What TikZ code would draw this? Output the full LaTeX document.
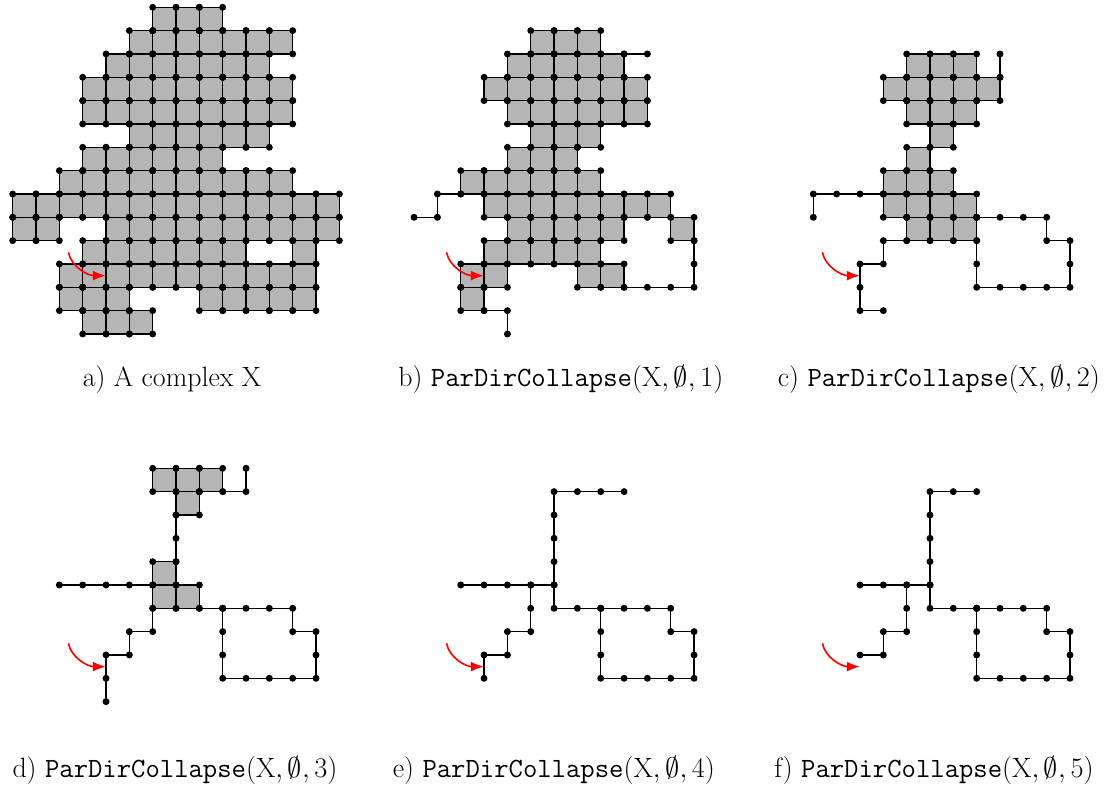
\documentclass[tikz,border=0pt]{standalone}
\usepackage{fontspec}
\usetikzlibrary{arrows.meta}
\tikzset{
  cell/.style={fill=cellgray,draw=black,line width=.8pt},
  seg/.style={line width=.8pt},
  flow/.style={red,line width=1pt,-{Latex[length=8pt,width=6pt]}},
  captext/.style={anchor=base,font=\fontsize{17}{20}\selectfont}
}
% squares given as row/first/last column, with a dot on every corner
\newcommand\cellrows[1]{%
  \foreach \row/\lo/\hi in {#1}{\foreach \col in {\lo,...,\hi}{\filldraw[cell] (\col,\row) rectangle ++(1,1);}}%
  \foreach \row/\lo/\hi in {#1}{\foreach \col in {\lo,...,\hi}{%
    \foreach \dx/\dy in {0/0,1/0,0/1,1/1}{\fill (\col+\dx,\row+\dy) circle[radius=2.1pt];}}}}
% free edges as a dotted polyline
\newcommand\chain[1]{\draw[seg] plot[mark=*,mark size=1.7pt] coordinates {#1};}
\newcommand\ring{\chain{(9,9) (10,9) (11,9) (12,9) (12,10) (13,10) (13,11) (13,12) (12,12) (11,12) (10,12) (9,12) (9,11) (9,10) (9,9)}}
\newcommand\pointer{\draw[flow] (2.39,10.5) .. controls (2.5,11.1) and (3.2,11.5) .. (4,11.5);}
\newcommand\pdc[1]{\texttt{ParDirCollapse}$(\mathrm{X},\emptyset,#1)$}
\begin{document}
\begin{tikzpicture}[x=0.5cm,y=-0.5cm,line join=round]
\definecolor{cellgray}{gray}{0.71}
\useasboundingbox (0,0) rectangle (47.443,33.814);
% a) the complex
\begin{scope}[shift={(0.544,0.313)}]
\cellrows{0/6/8,1/5/11,2/4/10,3/3/11,4/3/11,5/5/10,6/3/8,7/2/11,8/0/13,9/0/1,9/4/13,10/3/9,10/12/12,11/2/12,12/2/4,12/8/12,13/3/5}
\pointer
\end{scope}
% b) one step
\begin{scope}[shift={(16.746,0.313)}]
\cellrows{1/6/8,2/5/9,3/4/10,4/5/10,5/6/8,6/5/7,7/3/8,8/4/11,9/5/9,9/12/12,10/4/8,11/3/4,11/8/9,12/3/3}
\chain{(10,2) (11,2)}
\chain{(3,8) (2,8) (2,9) (1,9)}
\chain{(13,10) (13,11) (13,12) (12,12) (11,12) (10,12)}
\chain{(4,13) (5,13) (5,14)}
\pointer
\end{scope}
% c) two steps
\begin{scope}[shift={(32.857,0.313)}]
\cellrows{2/6/8,3/5/9,4/6/8,5/7/7,6/6/6,7/5/7,8/5/8,9/6/8}
\chain{(10,2) (10,3)}
\chain{(2,9) (2,8) (3,8) (4,8) (5,8)}
\chain{(6,10) (5,10) (5,11) (4,11) (4,12) (4,13) (5,13)}
\ring
\pointer
\end{scope}
% d) three steps
\begin{scope}[shift={(0.544,17.07)}]
\cellrows{3/6/8,4/7/7,7/6/6,8/6/7}
\chain{(10,3) (10,4) (9,4)}
\chain{(7,5) (7,6) (7,7)}
\chain{(2,8) (3,8) (4,8) (5,8) (6,8)}
\chain{(6,9) (6,10) (5,10) (5,11) (4,11) (4,12) (4,13)}
\chain{(8,9) (9,9)}
\ring
\pointer
\end{scope}
% e) four steps
\begin{scope}[shift={(16.746,17.07)}]
\chain{(10,4) (9,4) (8,4) (7,4) (7,5) (7,6) (7,7) (7,8) (7,9) (8,9) (9,9)}
\chain{(3,8) (4,8) (5,8) (6,8) (7,8)}
\chain{(6,8) (6,9) (6,10) (5,10) (5,11) (4,11) (4,12)}
\ring
\pointer
\end{scope}
% f) five steps
\begin{scope}[shift={(32.857,17.07)}]
\chain{(9,4) (8,4) (7,4) (7,5) (7,6) (7,7) (7,8) (7,9) (8,9) (9,9)}
\chain{(4,8) (5,8) (6,8) (7,8)}
\chain{(6,8) (6,9) (6,10) (5,10) (5,11) (4,11)}
\ring
\pointer
\end{scope}
\node[captext] (capA) at (7.37,16.55) {a) A complex X};
\node[captext] (capB) at (24.04,16.55) {b) \pdc{1}};
\node[captext] (capC) at (40.24,16.55) {c) \pdc{2}};
\node[captext] (capD) at (7.5,33.3) {d) \pdc{3}};
\node[captext] (capE) at (23.74,33.3) {e) \pdc{4}};
\node[captext] (capF) at (40.03,33.3) {f) \pdc{5}};
\end{tikzpicture}
\end{document}
